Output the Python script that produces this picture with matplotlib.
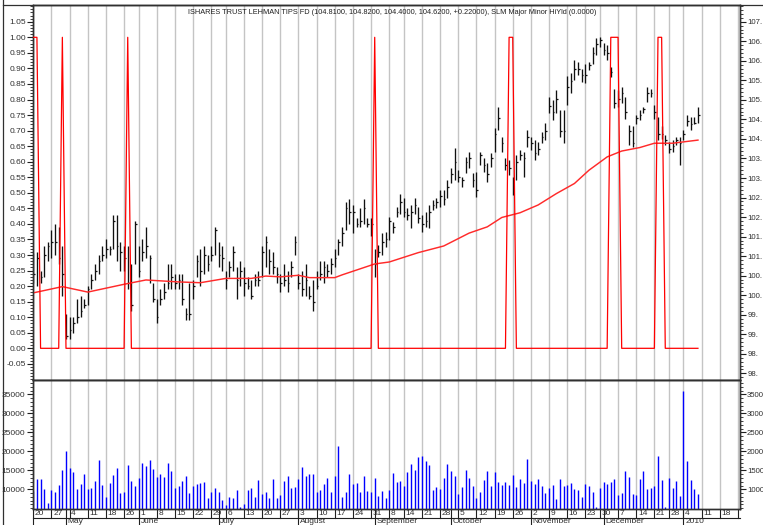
import numpy as np
import matplotlib
matplotlib.use("Agg")
import matplotlib.pyplot as plt
from matplotlib import font_manager
from matplotlib.ticker import FixedLocator, MultipleLocator, FormatStrFormatter, FixedFormatter
from matplotlib.lines import Line2D

TITLE = ("ISHARES TRUST LEHMAN TIPS FD (104.8100, 104.8200, 104.4000, 104.6200, +0.22000), "
         "SLM Major Minor HiYld (0.0000)")

highs = [101.07, 101.11, 100.63, 101.27, 101.35, 101.66, 101.82, 101.74, 101.27, 99.52,
         99.44, 99.44, 99.91, 99.99, 99.91, 100.23, 100.55, 100.79, 101.03, 101.27,
         101.43, 101.27, 102.06, 102.06, 101.35, 101.27, 101.27, 100.79, 101.90, 101.27,
         101.43, 101.74, 101.03, 100.31, 99.91, 100.15, 100.31, 100.79, 100.79, 100.55,
         100.55, 100.55, 99.67, 100.31, 100.39, 101.03,
         101.19, 101.27, 101.03, 101.27, 101.74, 101.35, 101.27, 100.63, 100.87, 101.27,
         100.71, 100.87, 100.71, 100.47, 100.39, 100.55, 100.63, 101.27, 101.51, 101.19,
         101.11, 100.71, 100.55, 100.79, 100.63, 100.87, 101.51, 100.55, 100.63, 100.79,
         100.23, 100.39, 100.63, 100.87, 100.87, 100.79, 100.95, 101.19, 101.43, 101.74,
         102.38, 102.46, 102.30, 101.98, 102.22, 102.46, 101.98, 101.98, 101.19,
         101.28, 101.59, 101.63, 102.01, 101.88, 102.26, 102.60, 102.48, 102.22, 102.31,
         102.48, 102.26, 102.06, 102.14, 102.31, 102.44, 102.48, 102.69, 102.69, 102.95,
         103.25, 103.76, 103.20, 103.03, 103.54, 103.67, 103.12, 103.16, 103.67, 103.50,
         103.38, 103.63, 104.27, 104.83, 104.06, 103.50, 103.46, 103.03, 103.58, 103.72,
         103.67, 104.23, 104.06, 103.97, 103.93, 104.19, 104.40, 105.08,
         104.99, 105.25, 104.74, 104.74, 105.60, 105.68, 106.02, 105.98, 105.80, 105.93,
         105.98, 106.36, 106.58, 106.62, 106.45, 106.40, 105.85, 105.29, 105.25, 105.33,
         105.08, 104.36, 104.32, 104.61, 104.74, 104.83, 105.33, 105.29, 104.87, 104.57,
         104.32, 104.10, 103.93, 103.97, 104.05, 104.05, 104.23, 104.61, 104.57, 104.57, 104.82]

lows = [100.31, 100.23, 100.31, 100.47, 100.87, 100.95, 101.03, 100.79, 99.99, 98.88,
        98.88, 99.04, 99.28, 99.44, 99.67, 99.75, 100.15, 100.39, 100.55, 100.87,
        100.95, 101.03, 101.19, 100.87, 100.63, 100.63, 100.15, 99.60, 100.79, 100.47,
        100.87, 100.95, 100.31, 99.83, 99.28, 99.75, 99.91, 100.15, 100.15, 100.15,
        100.15, 99.75, 99.36, 99.36, 99.91, 100.47,
        100.23, 100.55, 100.63, 100.87, 101.03, 100.71, 100.63, 100.15, 100.47, 100.63,
        99.91, 100.23, 99.99, 100.15, 99.91, 100.23, 100.23, 100.47, 100.71, 100.55,
        100.55, 100.31, 100.07, 100.23, 100.07, 100.47, 101.03, 100.15, 99.99, 99.99,
        99.91, 99.60, 100.15, 100.39, 100.31, 100.47, 100.55, 100.71, 101.03, 101.27,
        101.66, 101.82, 101.58, 101.74, 101.74, 101.82, 101.74, 101.51, 100.47,
        100.98, 101.03, 101.24, 101.41, 101.59, 102.01, 102.09, 102.01, 101.93, 101.71,
        102.09, 101.84, 101.63, 101.75, 101.71, 102.18, 102.22, 102.26, 102.31, 102.48,
        102.86, 102.95, 102.91, 102.78, 103.12, 103.25, 102.78, 102.52, 103.33, 103.16,
        102.91, 103.29, 103.67, 104.23, 103.67, 103.20, 103.07, 102.56, 102.95, 103.46,
        103.03, 103.80, 103.72, 103.46, 103.59, 103.89, 103.97, 104.66,
        104.48, 104.66, 104.05, 103.89, 104.86, 105.17, 105.51, 105.64, 105.46, 105.42,
        105.76, 105.93, 106.15, 106.36, 106.15, 106.02, 105.59, 104.79, 104.83, 104.91,
        104.52, 103.85, 103.80, 104.39, 104.48, 104.66, 104.95, 105.08, 104.52, 103.97,
        104.01, 103.85, 103.63, 103.67, 103.85, 103.33, 103.97, 104.32, 104.23, 104.39, 104.40]

closes = [100.55, 100.95, 100.47, 101.03, 101.27, 101.35, 101.35, 100.95, 100.55, 98.96,
          99.12, 99.28, 99.44, 99.60, 99.75, 100.15, 100.39, 100.63, 100.87, 101.03,
          101.19, 101.19, 101.90, 101.27, 101.11, 100.95, 100.31, 99.75, 101.82, 100.63,
          101.11, 101.27, 100.95, 99.91, 99.44, 99.91, 100.07, 100.31, 100.47, 100.31,
          100.39, 99.91, 99.52, 99.52, 100.23, 100.87,
          100.63, 101.03, 100.79, 101.03, 101.66, 101.03, 100.95, 100.39, 100.71, 101.11,
          100.39, 100.63, 100.31, 100.23, 99.99, 100.39, 100.39, 101.11, 101.35, 100.87,
          100.71, 100.55, 100.31, 100.39, 100.31, 100.71, 101.35, 100.31, 100.15, 100.39,
          99.99, 99.83, 100.23, 100.55, 100.71, 100.63, 100.79, 100.95, 101.35, 101.58,
          102.22, 102.14, 102.14, 101.82, 101.90, 102.22, 101.82, 101.82, 100.79,
          101.11, 101.35, 101.43, 101.90, 101.74, 102.14, 102.38, 102.14, 102.06, 102.14,
          102.30, 101.98, 101.82, 101.90, 102.14, 102.30, 102.38, 102.54, 102.46, 102.78,
          103.10, 103.42, 103.02, 102.94, 103.42, 103.50, 102.94, 102.70, 103.58, 103.34,
          103.10, 103.50, 104.13, 104.53, 103.89, 103.34, 103.26, 102.70, 103.42, 103.58,
          103.50, 104.05, 103.89, 103.65, 103.73, 104.05, 104.21, 104.85,
          104.69, 105.01, 104.21, 104.21, 105.33, 105.49, 105.80, 105.80, 105.64, 105.64,
          105.88, 106.20, 106.44, 106.52, 106.28, 106.20, 105.72, 104.93, 105.01, 105.17,
          104.69, 104.21, 103.89, 104.53, 104.61, 104.77, 105.17, 105.17, 104.69, 104.13,
          104.13, 103.97, 103.73, 103.81, 103.97, 103.89, 104.13, 104.45, 104.37, 104.40, 104.62]

volume = [9560, 12720, 12720, 10090, 6320, 9820, 9390, 11140, 15000, 20000,
          15700, 14470, 10000, 11490, 13950, 10000, 10260, 12190, 17630, 11140,
          8070, 11580, 13680, 15700, 8950, 9300, 16500, 12100, 10800, 13100,
          16900, 16100, 17700, 15400, 13200, 13900, 13300, 16900, 14800, 10400,
          11000, 12100, 13400, 9000, 10800, 11500, 11600, 12000, 7600, 9300,
          10300, 9300, 7100, 5900, 8000, 7600, 9700, 5300, 6100, 9800,
          10400, 8000, 12500, 8800, 9300, 7700, 12700, 7600, 8500, 12200,
          13500, 10300, 10600, 12700, 16000, 13400, 13900, 13900, 9300, 9700,
          11300, 13100, 9300, 13600, 21300, 7900, 9200, 14000, 11400, 11600,
          9200, 13400, 9500, 9200, 13100, 8200, 9500, 7600, 9800, 14200,
          11900, 12100, 10900, 14500, 16700, 15000, 18500, 18800, 17400, 16400,
          9900, 10500, 10100, 13100, 16600, 14800, 13400, 8800, 10600, 15000,
          13000, 10900, 7700, 9200, 12400, 14900, 10900, 14600, 11900, 11100,
          11900, 11100, 13700, 10600, 12700, 11600, 18000, 12100, 11300, 12600,
          10800, 9100, 10400, 11100, 7400, 12700, 10800, 11100, 11600, 10000,
          9900, 8000, 11300, 10900, 9300, 5300, 10400, 11900, 11400, 11900,
          12600, 8500, 9000, 14800, 13200, 8800, 8600, 12700, 14900, 10100,
          10400, 10800, 18700, 12500, 5400, 13000, 10300, 12300, 8300, 36000,
          17400, 12400, 10100, 8700]

signal_on = [0, 1, 8, 26, 94, 131, 132, 159, 160, 161, 172, 173]

ma_idx = [0, 8, 15, 25, 31, 40, 46, 53, 60, 64, 68, 73, 76, 83, 85, 94, 98, 106, 113, 120,
          125, 129, 134, 139, 144, 149, 153, 158, 162, 167, 171, 176, 183]
ma_val = [100.06, 100.22, 100.08, 100.28, 100.39, 100.34, 100.32, 100.43, 100.43, 100.49,
          100.47, 100.51, 100.45, 100.45, 100.52, 100.80, 100.85, 101.09, 101.26, 101.59,
          101.75, 101.99, 102.11, 102.31, 102.60, 102.86, 103.20, 103.54, 103.69, 103.78,
          103.89, 103.89, 103.97]

week_idx = [0, 5, 10, 15, 20, 25, 29, 34, 39, 44, 49, 53, 58, 63, 68, 73, 78, 83, 88, 93,
            98, 102, 107, 112, 117, 122, 127, 132, 137, 142, 147, 152, 156, 161, 166, 171,
            175, 179, 184, 189, 194]
week_labels = ["20", "27", "4", "11", "18", "26", "1", "8", "15", "22", "29", "6", "13", "20",
               "27", "3", "10", "17", "24", "31", "8", "14", "21", "28", "5", "12", "19", "26",
               "2", "9", "16", "23", "30", "7", "14", "21", "28", "4", "11", "18", "25"]
month_idx = [9, 29, 51, 73, 94, 115, 137, 157, 179]
month_labels = ["May", "June", "July", "August", "September", "October", "November",
                "December", "2010"]

left_ticks = [-0.05, 0.00, 0.05, 0.10, 0.15, 0.20, 0.25, 0.30, 0.35, 0.40, 0.45, 0.50, 0.55,
              0.60, 0.65, 0.70, 0.75, 0.80, 0.85, 0.90, 0.95, 1.00, 1.05]
price_ticks = [98.0, 98.5, 99.0, 99.5, 100.0, 100.5, 101.0, 101.5, 102.0, 102.5, 103.0,
               103.5, 104.0, 104.5, 105.0, 105.5, 106.0, 106.5, 107.0]
# right-hand labels appear truncated in the reference
price_tick_labels = ["98.", "98.", "99.", "99.", "100.", "100.", "101.", "101.", "102.", "102.",
                     "103.", "103.", "104.", "104.", "105.", "105.", "106.", "106.", "107."]
vol_ticks = [10000, 15000, 20000, 25000, 30000, 35000]
vol_left_labels = ["10000", "15000", "20000", "25000", "30000", "35000"]
vol_right_labels = ["1000", "1500", "2000", "2500", "3000", "3500"]

# ---------------------------------------------------------------- fonts
names = {f.name for f in font_manager.fontManager.ttflist}
BASE = "Liberation Sans" if "Liberation Sans" in names else "DejaVu Sans"
plt.rcParams["font.family"] = [BASE, "DejaVu Sans"]
if "Liberation Sans Narrow" in names:
    TFONT, TSIZE = "Liberation Sans Narrow", 6.4
else:
    TFONT, TSIZE = BASE, 5.3
LSIZE = 6.0
RSIZE = 5.6
TXT = "#303030"

# ---------------------------------------------------------------- layout
W_PX, H_PX = 763, 525
fig = plt.figure(figsize=(W_PX / 100, H_PX / 100), dpi=100)
fig.patch.set_facecolor("white")


def fx(px):
    return px / W_PX


def fy(py):
    return 1 - py / H_PX


X0, X1 = 33, 740
Y_TOP, Y_SEP, Y_BOT = 4.5, 380, 509
XMIN = -0.083
XMAX = XMIN + (X1 - X0) / 3.632

ax = fig.add_axes([fx(X0), fy(Y_SEP), fx(X1) - fx(X0), fy(Y_TOP) - fy(Y_SEP)])
axv = fig.add_axes([fx(X0), fy(Y_BOT), fx(X1) - fx(X0), fy(Y_SEP) - fy(Y_BOT)])
axl = fig.add_axes([fx(X0), 0, fx(X1) - fx(X0), fy(Y_BOT)])

n = len(highs)
x = np.arange(n)

L_LO, L_HI = -0.1019, 1.1055
ax.set_xlim(XMIN, XMAX)
ax.set_ylim(L_LO, L_HI)
axr = ax.twinx()
axr.set_ylim(98.641 + 7.96 * L_LO, 98.641 + 7.96 * L_HI)
axs = ax.twinx()
axs.set_ylim(L_LO, L_HI)
axs.axis("off")

for a in (ax, axv):
    for w in week_idx:
        a.axvline(w, color="#c4c4c4", lw=1.0, zorder=0)

axr.vlines(x, lows, highs, colors="#101010", linewidth=0.95)
axr.hlines(closes, x, x + 0.45, colors="#101010", linewidth=0.9)
axr.plot(ma_idx, ma_val, color="#ff2a2a", lw=1.05, solid_joinstyle="round")

signal = np.zeros(n)
signal[signal_on] = 1.0
axs.plot(x, signal, color="#ff0000", lw=0.9)

ax.set_xticks([])
axr.set_xticks([])
ax.yaxis.set_major_locator(FixedLocator(left_ticks))
ax.yaxis.set_minor_locator(FixedLocator(np.arange(-0.10, 1.1001, 0.01)))
ax.yaxis.set_major_formatter(FormatStrFormatter("%.2f"))
ax.tick_params(axis="y", which="major", direction="out", length=4, width=0.8,
               labelsize=LSIZE, pad=1, labelcolor=TXT, color="#202020")
ax.tick_params(axis="y", which="minor", direction="out", length=2, width=0.6, color="#202020")

axr.yaxis.set_major_locator(FixedLocator(price_ticks))
axr.yaxis.set_major_formatter(FixedFormatter(price_tick_labels))
axr.yaxis.set_minor_locator(MultipleLocator(0.1))
axr.tick_params(axis="y", which="major", direction="out", length=4, width=0.8,
                labelsize=RSIZE, pad=1.6, labelcolor=TXT, color="#202020")
axr.tick_params(axis="y", which="minor", direction="out", length=2, width=0.6, color="#202020")

for a in (ax, axr):
    for s in a.spines.values():
        s.set_color("#303030")
        s.set_linewidth(1.0)

# ---------------------------------------------------------------- volume
VLO, VHI = 4815, 38770
axv.set_xlim(XMIN, XMAX)
axv.set_ylim(VLO, VHI)
axv.vlines(x, VLO, volume, colors="#0000ff", linewidth=1.0)
axv.set_xticks([])
axv.yaxis.set_major_locator(FixedLocator(vol_ticks))
axv.yaxis.set_minor_locator(FixedLocator(np.arange(5000, 38001, 1000)))
axv.yaxis.set_major_formatter(FixedFormatter(vol_left_labels))
axv.tick_params(axis="y", which="major", direction="out", length=4, width=0.8,
                labelsize=LSIZE, pad=1.5, labelcolor=TXT, color="#202020")
axv.tick_params(axis="y", which="minor", direction="out", length=2, width=0.6, color="#202020")
axvr = axv.twinx()
axvr.set_ylim(VLO, VHI)
axvr.yaxis.set_major_locator(FixedLocator(vol_ticks))
axvr.yaxis.set_minor_locator(FixedLocator(np.arange(5000, 38001, 1000)))
axvr.yaxis.set_major_formatter(FixedFormatter(vol_right_labels))
axvr.tick_params(axis="y", which="major", direction="out", length=4, width=0.8,
                 labelsize=RSIZE, pad=1.0, labelcolor=TXT, color="#202020")
axvr.tick_params(axis="y", which="minor", direction="out", length=2, width=0.6, color="#202020")
axvr.set_xticks([])
for a in (axv, axvr):
    for s in a.spines.values():
        s.set_color("#303030")
        s.set_linewidth(1.0)

# ---------------------------------------------------------------- date label rows
axl.set_xlim(XMIN, XMAX)
axl.set_ylim(0, 16)
axl.axis("off")
for w, lab in zip(week_idx, week_labels):
    axl.plot([w, w], [7, 16], color="#202020", lw=0.8, clip_on=True)
    axl.text(w + 0.45, 11.4, lab, fontsize=LSIZE, va="center", ha="left", color=TXT,
             clip_on=True)
for m, lab in zip(month_idx, month_labels):
    axl.plot([m, m], [-2, 16], color="#202020", lw=0.8, clip_on=False)
    axl.text(m + 0.5, 6.6, lab, fontsize=LSIZE, va="top", ha="left", color=TXT,
             clip_on=False)
axl.plot([XMIN, XMAX], [7, 7], color="#202020", lw=0.8, clip_on=False)
axl.plot([XMIN, XMIN], [-2, 16], color="#202020", lw=0.8, clip_on=False)

# ---------------------------------------------------------------- frame & title
fig.add_artist(Line2D([fx(3), fx(3)], [0, 1], color="#303030", lw=0.9))
fig.add_artist(Line2D([fx(3), 1], [fy(Y_TOP), fy(Y_TOP)], color="#303030", lw=0.9))
fig.text(fx(392), fy(12.5), TITLE, ha="center", va="center", fontsize=TSIZE,
         family=[TFONT, "DejaVu Sans"], color="#202020")

fig.savefig("out.png", dpi=100, facecolor="white")
